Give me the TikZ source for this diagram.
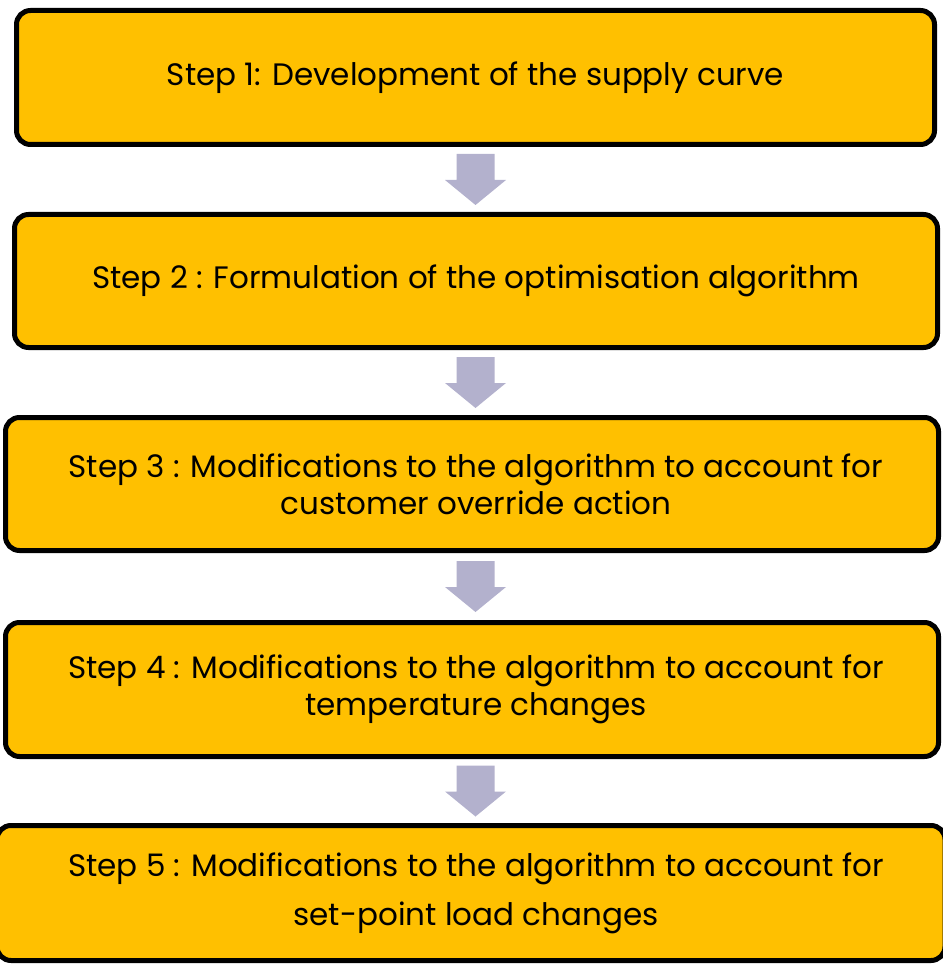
\documentclass[tikz,border=0pt]{standalone}
\usepackage{fontspec}
\setmainfont{Poppins}
\usetikzlibrary{calc}
\definecolor{stepfill}{HTML}{FFC000}
\definecolor{arrowfill}{HTML}{B3B1CD}
\begin{document}
\begin{tikzpicture}[x=1pt,y=-1pt,
  stepbox/.style={draw=black,fill=stepfill,line width=5pt,rounded corners=14pt,
    inner sep=0pt,outer sep=0pt,align=center,font=\fontsize{31}{37}\selectfont}]
\useasboundingbox (0,0) rectangle (942,965);

\node[stepbox,minimum width=918pt,minimum height=134pt] (s1) at (475.5,77.5)
  {Step 1: Development of the supply curve};
\node[stepbox,minimum width=923pt,minimum height=133pt] (s2) at (476,281)
  {Step 2 : Formulation of the optimisation algorithm};
\node[stepbox,minimum width=933pt,minimum height=133pt] (s3) at (472,484)
  {\hspace*{8pt}Step 3 : Modifications to the algorithm to account for\\\hspace*{8pt}customer override action};
\node[stepbox,minimum width=933pt,minimum height=134pt] (s4) at (472,689.5)
  {\hspace*{8pt}Step 4 : Modifications to the algorithm to account for\\\hspace*{8pt}temperature changes};
\node[stepbox,minimum width=948pt,minimum height=135pt,
  font=\fontsize{31}{49}\selectfont] (s5) at (471,893)
  {\hspace*{10pt}Step 5 : Modifications to the algorithm to account for\\\hspace*{10pt}set-point load changes\rule[-6pt]{0pt}{1pt}};

% block arrows between consecutive steps, on the axis of the first box
\foreach \up/\dn [count=\i] in {s1/s2,s2/s3,s3/s4,s4/s5}{
  \coordinate (m\i) at ($(\up.south)!0.5!(\dn.north)$);
  \coordinate (a\i) at (m\i -| s1.south);
  \fill[arrowfill] (a\i) ++(-19,-25.5) -- ++(38,0) -- ++(0,26) -- ++(11.5,0)
    -- ++(-30.5,25) -- ++(-30.5,-25) -- ++(11.5,0) -- cycle;
}
\end{tikzpicture}
\end{document}
